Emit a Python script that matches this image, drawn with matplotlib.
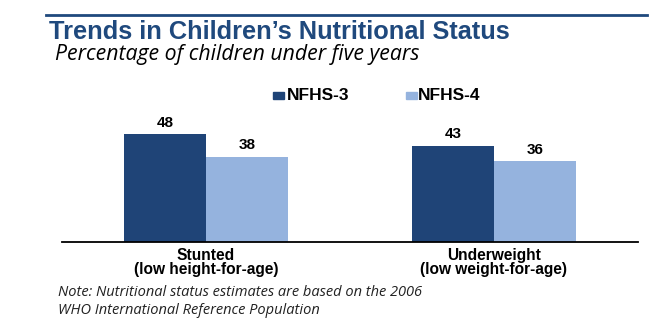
import matplotlib
matplotlib.use("Agg")
import matplotlib.pyplot as plt
from matplotlib.lines import Line2D
from matplotlib.patches import Rectangle

categories = ["Stunted\n(low height-for-age)", "Underweight\n(low weight-for-age)"]
series_names = ["NFHS-3", "NFHS-4"]
nfhs3 = [48, 43]
nfhs4 = [38, 36]

dark = "#1F4477"
light = "#95B3DE"
title_col = "#1F497D"

W, H = 665, 324
fig = plt.figure(figsize=(W / 100, H / 100), dpi=100)
fig.patch.set_facecolor("white")

def fx(px):
    return px / W

def fy(py):
    return 1 - py / H

# header rule, title and subtitle
fig.add_artist(Line2D([fx(46), fx(647)], [fy(15), fy(15)], color=title_col, lw=2.0))
fig.text(fx(49), fy(32), "Trends in Children\u2019s Nutritional Status", fontsize=18.3,
         fontweight="bold", color=title_col, family="Liberation Sans", va="center", ha="left")
fig.text(fx(55), fy(54.5), "Percentage of children under five years", fontsize=15.3,
         style="italic", color="black", family="Open Sans", va="center", ha="left")

# plot area
ax = fig.add_axes([fx(62), fy(242), fx(638) - fx(62), fy(107.6) - fy(242)])
ax.set_xlim(-0.5, 1.5)
ax.set_ylim(0, 60)
for s in ["top", "right", "left"]:
    ax.spines[s].set_visible(False)
ax.spines["bottom"].set_color("black")
ax.spines["bottom"].set_linewidth(1.3)
ax.set_yticks([])
ax.set_xticks([])

w = 0.285
x = list(range(len(categories)))
b1 = ax.bar([i - w / 2 for i in x], nfhs3, width=w, color=dark, zorder=2)
b2 = ax.bar([i + w / 2 for i in x], nfhs4, width=w, color=light, zorder=2)

for bars, vals in ((b1, nfhs3), (b2, nfhs4)):
    for r, v in zip(bars, vals):
        ax.annotate(f"{v}", (r.get_x() + r.get_width() / 2, v), xytext=(0, 8.5),
                    textcoords="offset points", ha="center", va="center",
                    fontsize=11, fontweight="bold", family="Liberation Sans")

# two-line category labels under each group
for i, c in enumerate(categories):
    for k, line in enumerate(c.split("\n")):
        ax.annotate(line, (i, 0), xytext=(0, -9.5 - k * 10.5), textcoords="offset points",
                    ha="center", va="center", fontsize=11.2, fontweight="bold",
                    family="Liberation Sans", annotation_clip=False)

# legend
for sx, tx, col, name in ((273, 287, dark, series_names[0]), (406, 418, light, series_names[1])):
    fig.add_artist(Rectangle((fx(sx), fy(99.5)), fx(11), fy(91.5) - fy(99.5), color=col,
                             transform=fig.transFigure))
    fig.text(fx(tx), fy(95.5), name, fontsize=12.5, fontweight="bold",
             family="Liberation Sans", va="center", ha="left")

# footnote
fig.text(fx(58), fy(292), "Note: Nutritional status estimates are based on the 2006",
         fontsize=10.5, style="italic", color="#222222", family="Open Sans", va="center")
fig.text(fx(58), fy(310), "WHO International Reference Population",
         fontsize=10.5, style="italic", color="#222222", family="Open Sans", va="center")

fig.savefig("out.png", dpi=100, facecolor="white")
